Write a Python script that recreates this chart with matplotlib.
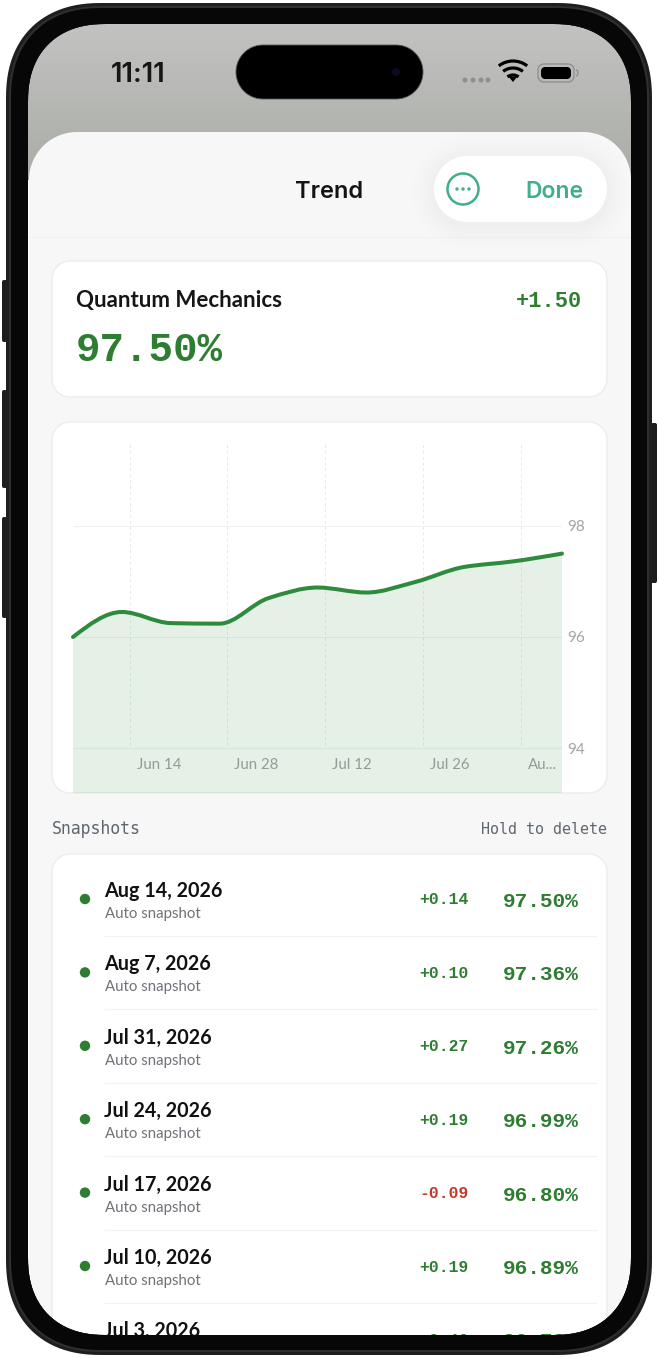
import numpy as np
import matplotlib
matplotlib.use("Agg")
import matplotlib.pyplot as plt
from matplotlib.patches import Polygon, PathPatch, Circle, Arc
from matplotlib.path import Path

# trend series, one point a week (days since first snapshot)
trend_days = [0, 7, 14, 21, 28, 35, 42, 49, 56, 63, 70]
trend_values = [96.00, 96.45, 96.25, 96.24, 96.70, 96.89, 96.80, 96.99, 97.26, 97.36, 97.50]
grid_days = [8.1, 22.1, 36.1, 50.1, 64.1]
grid_labels = ["Jun 14", "Jun 28", "Jul 12", "Jul 26", "Au..."]
y_ticks = [94, 96, 98]

# snapshot table
row_dates = ["Aug 14, 2026", "Aug 7, 2026", "Jul 31, 2026", "Jul 24, 2026",
             "Jul 17, 2026", "Jul 10, 2026", "Jul 3, 2026"]
row_deltas = ["+0.14", "+0.10", "+0.27", "+0.19", "-0.09", "+0.19", "+0.46"]
row_values = ["97.50%", "97.36%", "97.26%", "96.99%", "96.80%", "96.89%", "96.70%"]

GREEN = "#2e7d32"
RED = "#c0392b"
TEAL = "#41ae8a"
UI = ["Lato", "DejaVu Sans"]
HEAD = ["Inter", "DejaVu Sans"]
MONO = ["Liberation Mono", "DejaVu Sans Mono"]
LABEL = ["DejaVu Sans Mono"]
W, H = 659, 1358


def rr_verts(x0, y0, x1, y1, r, power=2.0, n=28):
    # rounded rectangle outline, power > 2 gives the squircle look
    t = np.linspace(0, np.pi / 2, n)
    cx = np.abs(np.cos(t)) ** (2 / power)
    sy = np.abs(np.sin(t)) ** (2 / power)
    corners = [
        (x1 - r + r * cx, y0 + r - r * sy),
        (x0 + r - r * sy, y0 + r - r * cx),
        (x0 + r - r * cx, y1 - r + r * sy),
        (x1 - r + r * sy, y1 - r + r * cx),
    ]
    return np.vstack([np.column_stack(c) for c in corners])


def box(ax, x0, y0, x1, y1, r, fc, ec="none", lw=0, z=1, alpha=None, power=2.0):
    p = Polygon(rr_verts(x0, y0, x1, y1, r, power), closed=True, fc=fc, ec=ec, lw=lw, zorder=z, alpha=alpha)
    ax.add_patch(p)
    return p


def ring(ax, outer, inner, fc, z):
    # outer and inner are vertex arrays, the inner one is reversed so it cuts a hole
    a = np.vstack([outer, outer[:1]])
    b = np.vstack([inner, inner[:1]])[::-1]
    verts = np.vstack([a, b])
    codes = [Path.MOVETO] + [Path.LINETO] * (len(a) - 1) + [Path.MOVETO] + [Path.LINETO] * (len(b) - 1)
    ax.add_patch(PathPatch(Path(verts, codes), fc=fc, ec="none", lw=0, zorder=z))


def spline_path(xs, ys):
    # monotone cubic as bezier segments, so it stays flat around local extremes
    xs = np.asarray(xs, float)
    ys = np.asarray(ys, float)
    h = np.diff(xs)
    s = np.diff(ys) / h
    m = np.zeros(len(xs))
    for i in range(1, len(xs) - 1):
        if s[i - 1] * s[i] > 0:
            m[i] = 2 * s[i - 1] * s[i] / (s[i - 1] + s[i])
    m[0] = (3 * s[0] - m[1]) / 2
    m[-1] = (3 * s[-1] - m[-2]) / 2
    verts = [(xs[0], ys[0])]
    codes = [Path.MOVETO]
    for i in range(len(xs) - 1):
        verts.append((xs[i] + h[i] / 3, ys[i] + m[i] * h[i] / 3))
        verts.append((xs[i + 1] - h[i] / 3, ys[i + 1] - m[i + 1] * h[i] / 3))
        verts.append((xs[i + 1], ys[i + 1]))
        codes += [Path.CURVE4] * 3
    return verts, codes


fig = plt.figure(figsize=(W / 100, H / 100), dpi=100, facecolor="white")
bg = fig.add_axes([0, 0, 1, 1])
bg.set_xlim(0, W)
bg.set_ylim(H, 0)
bg.axis("off")

# status bar backdrop, runs on behind the sheet corners
grad = np.linspace(0, 1, 160)[:, None]
bg.imshow(np.dstack([0.765 - 0.100 * grad, 0.768 - 0.093 * grad, 0.760 - 0.105 * grad]),
          extent=(20, 640, 180, 20), aspect="auto", zorder=0.5)
bg.set_xlim(0, W)
bg.set_ylim(H, 0)

# sheet
box(bg, 29, 132, 631, 1400, 48, "#f7f7f8", z=1)

bg.text(138, 82, "11:11", family=HEAD, weight="semibold", fontsize=19.5, color="#161616", ha="center", va="baseline", zorder=3)
box(bg, 236, 45, 423, 99, 27, "#000000", ec="#555555", lw=0.6, z=3)
bg.add_patch(Circle((396, 72), 4, fc="#0a0a22", ec="none", zorder=4))
for x in [465, 473, 481, 488]:
    bg.add_patch(Circle((x, 80), 2.5, fc="#8f918f", ec="none", zorder=3))
# wifi glyph
for d in [46, 32, 18]:
    bg.add_patch(Arc((513, 84), d, d, theta1=232, theta2=308, color="black", lw=2.3, zorder=3))
bg.add_patch(Polygon([(508.5, 76.5), (517.5, 76.5), (513, 82)], fc="black", ec="none", zorder=3))
box(bg, 538, 64, 574, 82, 6, "none", ec="#8c8c8c", lw=0.9, z=3)
box(bg, 541, 67, 571, 79, 4, "#000000", z=3)
bg.add_patch(Arc((576, 73), 4, 6, theta1=-90, theta2=90, color="#8c8c8c", lw=0.9, zorder=3))

# nav bar
bg.plot([29, 631], [237, 237], color="#f1f1f1", lw=0.8, zorder=1.5)
bg.text(329.5, 198, "Trend", family=HEAD, weight="semibold", fontsize=17, color="#141414", ha="center", va="baseline", zorder=3)
for i, a in enumerate(np.linspace(0.007, 0.002, 6)):
    g = 3 + i * 4
    box(bg, 434 - g, 158 - g, 607 + g, 226 + g, 33 + g, "#000000", z=1.6, alpha=a)
box(bg, 434, 156, 607, 222, 33, "#ffffff", z=2)
bg.add_patch(Circle((463, 189), 15.5, fc="none", ec=TEAL, lw=1.8, zorder=3))
for x in [457, 463, 469]:
    bg.add_patch(Circle((x, 189), 1.7, fc=TEAL, ec="none", zorder=3))
bg.text(554, 198, "Done", family=HEAD, weight="semibold", fontsize=16.5, color=TEAL, ha="center", va="baseline", zorder=3)

# summary card
box(bg, 52, 261, 607, 397, 18, "#ffffff", ec="#ebecec", lw=1, z=2)
bg.text(76, 307, "Quantum Mechanics", family=UI, weight="bold", fontsize=16, color="#151515", va="baseline", zorder=3)
bg.text(582, 307, "+1.50", family=MONO, weight="bold", fontsize=15.8, color=GREEN, ha="right", va="baseline", zorder=3)
bg.text(76, 361, "97.50%", family=MONO, weight="bold", fontsize=29.4, color=GREEN, va="baseline", zorder=3)

# chart card
box(bg, 52, 422, 607, 793, 18, "#ffffff", ec="#ebecec", lw=1, z=2)

# snapshot list
bg.text(52, 834, "Snapshots", family=LABEL, fontsize=11.9, color="#5f6670", va="baseline", zorder=3)
bg.text(607, 834, "Hold to delete", family=LABEL, fontsize=10.8, color="#5f6670", ha="right", va="baseline", zorder=3)
box(bg, 52, 854, 607, 1420, 18, "#ffffff", ec="#ebecec", lw=1, z=2)
for i, (d, dl, v) in enumerate(zip(row_dates, row_deltas, row_values)):
    y = i * 73.4
    col = RED if dl.startswith("-") else GREEN
    bg.add_patch(Circle((85, 899 + y), 5.2, fc=GREEN, ec="none", zorder=3))
    bg.text(104.5, 897 + y, d, family=UI, weight="bold", fontsize=14.2, color="#111111", va="baseline", zorder=3)
    bg.text(469, 904.5 + y, dl, family=MONO, weight="bold", fontsize=11.8, color=col, ha="right", va="baseline", zorder=3)
    bg.text(579, 907 + y, v, family=MONO, weight="bold", fontsize=15.2, color=GREEN, ha="right", va="baseline", zorder=3)
    if i < len(row_dates) - 1:
        # the last row runs under the bezel, only its top shows
        bg.text(105, 918 + y, "Auto snapshot", family=UI, fontsize=10.8, color="#6f7378", va="baseline", zorder=3)
        bg.plot([105, 596], [936 + y, 936 + y], color="#f2f2f2", lw=0.9, zorder=2.5)

# white outside the phone, then the body rings over the content
outer = rr_verts(6, 3, 652, 1355, 96, 2.3)
bg.add_patch(PathPatch(Path(np.vstack([[(-5, -5), (W + 5, -5), (W + 5, H + 5), (-5, H + 5), (-5, -5)],
                                       np.vstack([outer, outer[:1]])]),
                            [Path.MOVETO] + [Path.LINETO] * 4 + [Path.MOVETO] + [Path.LINETO] * len(outer)),
                       fc="white", ec="none", lw=0, zorder=6))
screen = rr_verts(28, 24, 631, 1335, 78, 2.3)
ring(bg, outer, screen, "#1e1e1e", 7)
ring(bg, rr_verts(9, 6, 649, 1352, 93, 2.3), screen, "#2f2f2f", 7.1)
ring(bg, rr_verts(11, 8, 647, 1350, 91, 2.3), screen, "#070707", 7.2)
for x0, x1, y0, y1 in [(2, 7, 280, 342), (2, 7, 390, 488), (2, 7, 517, 618), (651, 657, 423, 583)]:
    box(bg, x0, y0, x1, y1, 2, "#1d1d1d", z=6.5)

# chart, pixel placement
px_per_unit = 55.6
y_top = 96 + (637 - 441) / px_per_unit
y_bot = 96 - (793 - 637) / px_per_unit
ax = fig.add_axes([73 / W, 1 - 793 / H, (562 - 73) / W, (793 - 441) / H])
ax.set_facecolor("none")
ax.set_xlim(trend_days[0], trend_days[-1])
ax.set_ylim(y_bot, y_top)
for s in ax.spines.values():
    s.set_visible(False)

verts, codes = spline_path(trend_days, trend_values)
fill_verts = verts + [(trend_days[-1], y_bot), (trend_days[0], y_bot), verts[0]]
fill_codes = codes + [Path.LINETO, Path.LINETO, Path.CLOSEPOLY]
ax.add_patch(PathPatch(Path(fill_verts, fill_codes), fc="#2e8b3e", alpha=0.12, ec="none", lw=0, zorder=2))
ax.add_patch(PathPatch(Path(verts, codes), fc="none", ec="#2e8b3e", lw=2.9, capstyle="round", zorder=4, clip_on=False))

ax.hlines(y_ticks, trend_days[0], trend_days[-1], color="#f0f2f0", lw=0.8, zorder=1)
ax.vlines(grid_days, 94.05, y_top, color="#e8eae8", lw=0.7, linestyles=(0, (3, 3)), zorder=1)

ax.set_xticks([])
ax.yaxis.tick_right()
ax.set_yticks(y_ticks)
ax.set_yticklabels([str(v) for v in y_ticks], family=UI, fontsize=11, color="#a2a5a2")
ax.tick_params(axis="y", length=0, pad=4)
for d, lab in zip(grid_days, grid_labels):
    ax.annotate(lab, (d, 94), xytext=(7, -21), textcoords="offset pixels", family=UI, fontsize=10.8,
                color="#969a96", ha="left", va="baseline", zorder=5)

fig.savefig("out.png", dpi=100, facecolor="white")
